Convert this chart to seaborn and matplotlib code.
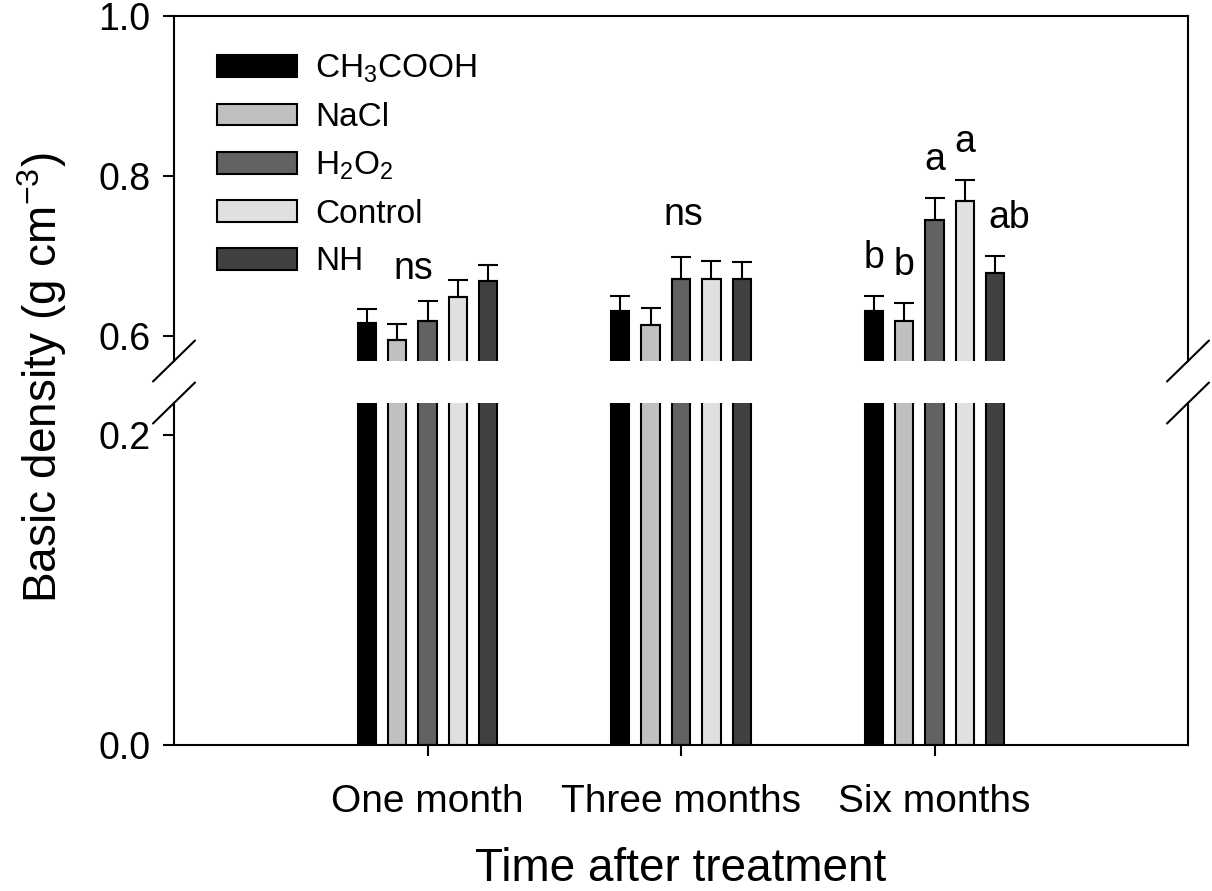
import numpy as np
import pandas as pd
import matplotlib
matplotlib.use("Agg")
import matplotlib.pyplot as plt
import seaborn as sns
from matplotlib.patches import Patch
from matplotlib.lines import Line2D

# ---------------- data ----------------
times = ["One month", "Three months", "Six months"]
treatments = ["CH3COOH", "NaCl", "H2O2", "Control", "NH"]
treatment_labels = [r"CH$_3$COOH", "NaCl", r"H$_2$O$_2$", "Control", "NH"]

ch3cooh = [0.617, 0.632, 0.632]
nacl = [0.595, 0.614, 0.619]
h2o2 = [0.619, 0.672, 0.745]
control = [0.649, 0.671, 0.769]
nh = [0.669, 0.672, 0.679]

ch3cooh_err = [0.017, 0.018, 0.018]
nacl_err = [0.020, 0.021, 0.022]
h2o2_err = [0.025, 0.027, 0.028]
control_err = [0.021, 0.023, 0.026]
nh_err = [0.020, 0.021, 0.021]

six_month_letters = ["b", "b", "a", "a", "ab"]
ns_labels = ["ns", "ns"]

colors = ["#000000", "#c0c0c0", "#626262", "#e0e0e0", "#404040"]

means = [ch3cooh, nacl, h2o2, control, nh]
errs = [ch3cooh_err, nacl_err, h2o2_err, control_err, nh_err]

rows = []
for t, m, e in zip(treatments, means, errs):
    for ti, v, ev in zip(times, m, e):
        rows.append({"time": ti, "treatment": t, "density": v, "err": ev})
df = pd.DataFrame(rows)
palette = dict(zip(treatments, colors))

# ---------------- style ----------------
sns.set_style("ticks")
plt.rcParams["font.family"] = ["Liberation Sans", "DejaVu Sans"]
plt.rcParams["mathtext.fontset"] = "custom"
plt.rcParams["mathtext.rm"] = "Liberation Sans"
plt.rcParams["mathtext.it"] = "Liberation Sans:italic"
plt.rcParams["mathtext.bf"] = "Liberation Sans:bold"
plt.rcParams["mathtext.default"] = "regular"
for k in ("text.color", "axes.labelcolor", "xtick.color", "ytick.color",
          "axes.edgecolor"):
    plt.rcParams[k] = "black"

fig = plt.figure(figsize=(12.12, 8.91), dpi=100)
L, R = 174 / 1212, 1188 / 1212
top_ax_top, top_ax_bot = 1 - 16 / 891, 1 - 361 / 891
bot_ax_top, bot_ax_bot = 1 - 403 / 891, 1 - 745 / 891
ax_top = fig.add_axes([L, top_ax_bot, R - L, top_ax_top - top_ax_bot])
ax_bot = fig.add_axes([L, bot_ax_bot, R - L, bot_ax_top - bot_ax_bot])

for ax in (ax_top, ax_bot):
    sns.barplot(data=df, x="time", y="density", hue="treatment",
                order=times, hue_order=treatments, palette=palette,
                width=0.6, gap=0.4, errorbar=None, edgecolor="black",
                linewidth=1.5, saturation=1, legend=False, ax=ax)
    ax.set_xlim(-1, 3)
    ax.set_xlabel("")
    ax.set_ylabel("")
    for s in ax.spines.values():
        s.set_linewidth(1.5)
        s.set_color("black")

ax_top.set_ylim(0.569, 1.0)
ax_bot.set_ylim(0.0, 0.2206)
ax_top.set_yticks([0.6, 0.8, 1.0])
ax_top.set_yticklabels(["0.6", "0.8", "1.0"])
ax_bot.set_yticks([0.0, 0.2])
ax_bot.set_yticklabels(["0.0", "0.2"])

ax_top.spines["bottom"].set_visible(False)
ax_bot.spines["top"].set_visible(False)
ax_top.tick_params(axis="x", which="both", bottom=False, labelbottom=False)
for ax in (ax_top, ax_bot):
    ax.tick_params(axis="y", direction="out", length=8, width=1.5,
                   labelsize=27, pad=9, right=False, colors="black")
ax_bot.tick_params(axis="x", direction="out", length=8, width=1.5,
                   labelsize=28, pad=20, colors="black")

# error bars (upper only) on the top panel
for cont, e in zip(ax_top.containers, errs):
    xs = [b.get_x() + b.get_width() / 2 for b in cont]
    ys = [b.get_height() for b in cont]
    ax_top.errorbar(xs, ys, yerr=[np.zeros(len(e)), e], fmt="none",
                    ecolor="black", elinewidth=1.5, capsize=7.5,
                    capthick=1.5, zorder=1)

# significance letters for six months
for cont, e, lab in zip(ax_top.containers, errs, six_month_letters):
    b = list(cont)[2]
    xc = b.get_x() + b.get_width() / 2
    dx = 0.055 if lab == "ab" else 0.0
    ax_top.text(xc + dx, b.get_height() + e[2] + 0.035, lab, ha="center",
                va="baseline", fontsize=27)

# "ns" for first two groups
ax_top.text(-0.055, 0.671, ns_labels[0], ha="center", va="baseline", fontsize=27)
ax_top.text(1.01, 0.739, ns_labels[1], ha="center", va="baseline", fontsize=27)

# legend
handles = [Patch(facecolor=c, edgecolor="black", linewidth=1.5) for c in colors]
ax_top.legend(handles, treatment_labels, loc="upper left",
              bbox_to_anchor=(43 / 1014, 1 - 37 / 345), frameon=False,
              fontsize=24, handlelength=2.4, handleheight=0.62,
              handletextpad=0.54, labelspacing=0.5, borderpad=0,
              borderaxespad=0)

# break marks
dx, dy = 21 / 1212, 20.5 / 891
for xx in (L, R):
    for yy in (top_ax_bot, bot_ax_top):
        fig.add_artist(Line2D([xx - dx, xx + dx], [yy - dy, yy + dy],
                              transform=fig.transFigure, color="black",
                              linewidth=1.5))

# axis labels
fig.text(0.035, 1 - 378 / 891, r"Basic density (g cm$^{-3}$)", rotation=90,
         ha="center", va="center", fontsize=33)
fig.text((L + R) / 2, 1 - 881 / 891, "Time after treatment", ha="center",
         va="baseline", fontsize=33)

fig.savefig("out.png", dpi=100)
